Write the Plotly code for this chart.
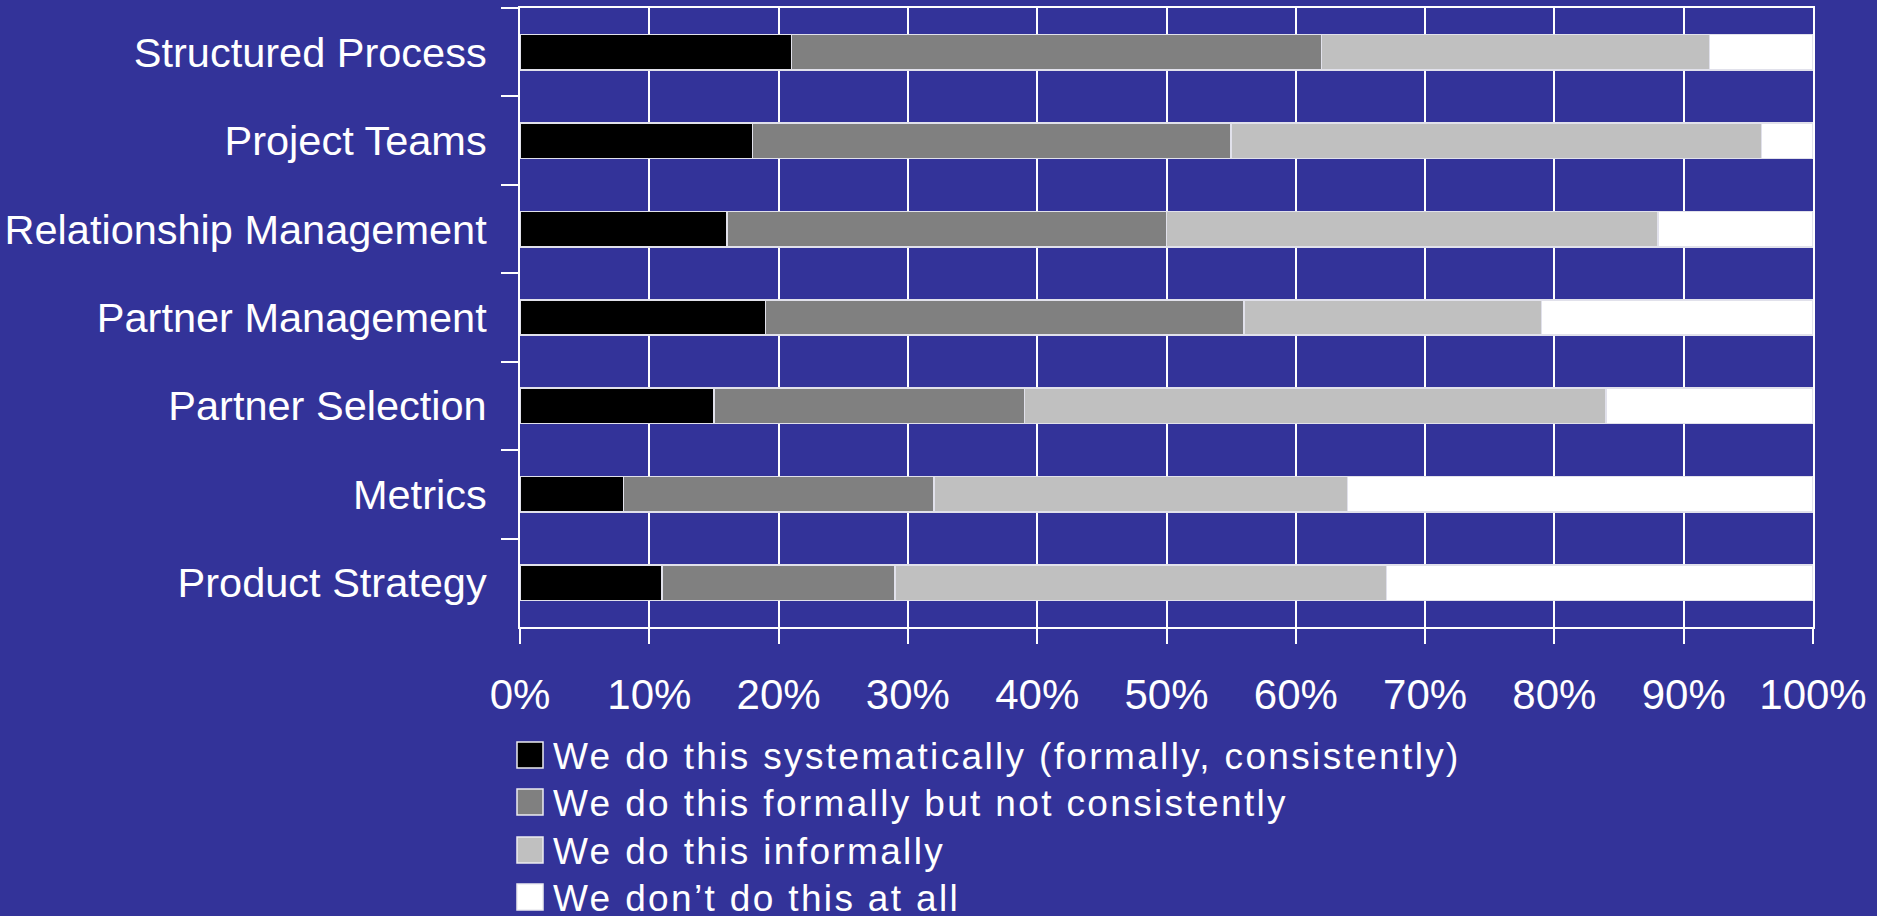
import plotly.graph_objects as go

categories = ["Structured Process", "Project Teams", "Relationship Management",
              "Partner Management", "Partner Selection", "Metrics", "Product Strategy"]

series_names = ["We do this systematically (formally, consistently)",
                "We do this formally but not consistently",
                "We do this informally",
                "We don\u2019t do this at all"]

systematic = [21, 18, 16, 19, 15, 8, 11]
formal_inconsistent = [41, 37, 34, 37, 24, 24, 18]
informal = [30, 41, 38, 23, 45, 32, 38]
not_at_all = [8, 4, 12, 21, 16, 36, 33]

x_ticks = [0, 10, 20, 30, 40, 50, 60, 70, 80, 90, 100]
x_tick_labels = [f"{t}%" for t in x_ticks]

colors = ["#000000", "#808080", "#C0C0C0", "#FFFFFF"]
values = [systematic, formal_inconsistent, informal, not_at_all]

BG = "#333399"
FONT = "Liberation Sans, Arial, sans-serif"

fig = go.Figure()
for name, vals, col in zip(series_names, values, colors):
    fig.add_trace(go.Bar(
        y=categories, x=vals, name=name, orientation="h",
        marker=dict(color=col, line=dict(color="rgb(225,225,235)", width=1.5)),
        showlegend=False,
    ))

# plot area in pixels
W, H = 1877, 916
L, R, T, B = 520, 64, 8, 289
ph = H - T - B
pw = W - L - R

def py(ypix):
    return (H - B - ypix) / ph

def px(xpix):
    return (xpix - L) / pw

legend_rows = [755, 802, 850, 897]
for name, col, yc in zip(series_names, colors, legend_rows):
    fig.add_shape(type="rect", xref="paper", yref="paper",
                  x0=px(517), x1=px(543), y0=py(yc + 13), y1=py(yc - 13),
                  fillcolor=col, line=dict(color="rgb(235,235,240)", width=1.5))
    fig.add_annotation(xref="paper", yref="paper", x=px(551), y=py(yc + 1),
                       xanchor="left", yanchor="middle", showarrow=False,
                       text=f'<span style="letter-spacing:2.35px">{name}</span>',
                       font=dict(family=FONT, size=37, color="white"))

fig.update_layout(
    barmode="stack",
    bargap=0.6,
    width=W, height=H,
    margin=dict(l=L, r=R, t=T, b=B, pad=0, autoexpand=False),
    paper_bgcolor=BG, plot_bgcolor=BG,
    font=dict(family=FONT, color="white"),
    showlegend=False,
)
fig.update_xaxes(
    range=[0, 100], tickvals=x_ticks, ticktext=x_tick_labels,
    showgrid=True, gridcolor="white", gridwidth=2,
    showline=True, linecolor="white", linewidth=2, mirror=True,
    ticks="outside", ticklen=15, tickwidth=2, tickcolor="white",
    tickfont=dict(family=FONT, size=42, color="white"),
    ticklabelstandoff=15, zeroline=False, automargin=False,
)
fig.update_yaxes(
    autorange="reversed", categoryorder="array", categoryarray=categories,
    showgrid=False, showline=True, linecolor="white", linewidth=2, mirror=True,
    ticks="outside", tickson="boundaries", ticklen=17, tickwidth=2, tickcolor="white",
    tickfont=dict(family=FONT, size=41.5, color="white"),
    ticklabelstandoff=23, automargin=False,
)

fig.write_html("out.html", config={"displayModeBar": False})

with open("out.html", "r", encoding="utf-8") as f:
    html = f.read()
html = html.replace("<body>", f'<body style="margin:0;padding:0;background:{BG};overflow:hidden">', 1)
with open("out.html", "w", encoding="utf-8") as f:
    f.write(html)
